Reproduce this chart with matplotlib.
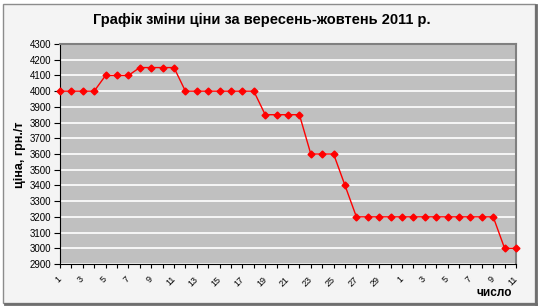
import matplotlib
matplotlib.use("Agg")
import matplotlib.pyplot as plt
from matplotlib.patches import Rectangle
from matplotlib.lines import Line2D

plt.rcParams['font.family'] = ['Liberation Sans', 'DejaVu Sans']

# дні: вересень 1..30, жовтень 1..11
days = [str(d) for d in range(1, 31)] + [str(d) for d in range(1, 12)]
prices = [4000, 4000, 4000, 4000,
          4100, 4100, 4100,
          4150, 4150, 4150, 4150,
          4000, 4000, 4000, 4000, 4000, 4000, 4000,
          3850, 3850, 3850, 3850,
          3600, 3600, 3600,
          3400,
          3200, 3200, 3200, 3200,
          3200, 3200, 3200, 3200, 3200, 3200, 3200, 3200, 3200,
          3000, 3000]
y_ticks = list(range(2900, 4301, 100))

W, H = 540, 307
fig = plt.figure(figsize=(W / 100, H / 100), dpi=100)
fig.patch.set_facecolor("white")

# рамка області діаграми (як в Excel)
fig.add_artist(Rectangle((3 / W, 1 - 303 / H), 532 / W, 299 / H,
                         transform=fig.transFigure, facecolor="#f4f4f4",
                         edgecolor="#8c8c8c", linewidth=1, zorder=-5))
fig.add_artist(Line2D([536 / W, 536 / W], [1 - 304 / H, 1 - 5 / H],
                      transform=fig.transFigure, color="#6e6e6e", linewidth=2,
                      zorder=-4))
fig.add_artist(Line2D([5 / W, 536 / W], [1 - 304 / H, 1 - 304 / H],
                      transform=fig.transFigure, color="#6e6e6e", linewidth=2,
                      zorder=-4))

ax = fig.add_axes([60 / W, 43 / H, 456 / W, 220 / H])
ax.set_facecolor("#c0c0c0")
ax.set_zorder(1)

x = list(range(len(days)))
ax.plot(x, prices, color="#ff0000", linewidth=1, marker="D", markersize=3.5,
        markerfacecolor="#ff0000", markeredgecolor="#ff0000", zorder=3,
        clip_on=False)

ax.set_xlim(0, len(days) - 1)
ax.set_ylim(2900, 4300)
ax.set_yticks(y_ticks)
ax.set_yticklabels([str(v) for v in y_ticks], fontsize=7)
ax.set_xticks(x)
ax.set_xticklabels([d if i % 2 == 0 else "" for i, d in enumerate(days)],
                   fontsize=6.5, rotation=45, ha="right", va="center",
                   rotation_mode="anchor")
ax.tick_params(axis="x", length=3, width=0.8, pad=7)
ax.tick_params(axis="y", length=4, width=0.8, pad=2)

ax.yaxis.grid(True, color="white", linewidth=1.2)
ax.set_axisbelow(True)

for side in ("left", "bottom"):
    ax.spines[side].set_color("black")
    ax.spines[side].set_linewidth(0.8)
for side in ("top", "right"):
    ax.spines[side].set_color("#808080")
    ax.spines[side].set_linewidth(1.5)

fig.text(262 / W, 1 - 20 / H, "Графік зміни ціни за вересень-жовтень 2011 р.",
         ha="center", va="center", fontsize=10.5, fontweight="bold")
fig.text(20 / W, 1 - 155 / H, "ціна, грн./т", ha="center", va="center",
         rotation=90, fontsize=9, fontweight="bold")
fig.text(494 / W, 1 - 293 / H, "число", ha="center", va="center",
         fontsize=8.5, fontweight="bold")

fig.savefig("out.png", dpi=100, facecolor=fig.get_facecolor())
